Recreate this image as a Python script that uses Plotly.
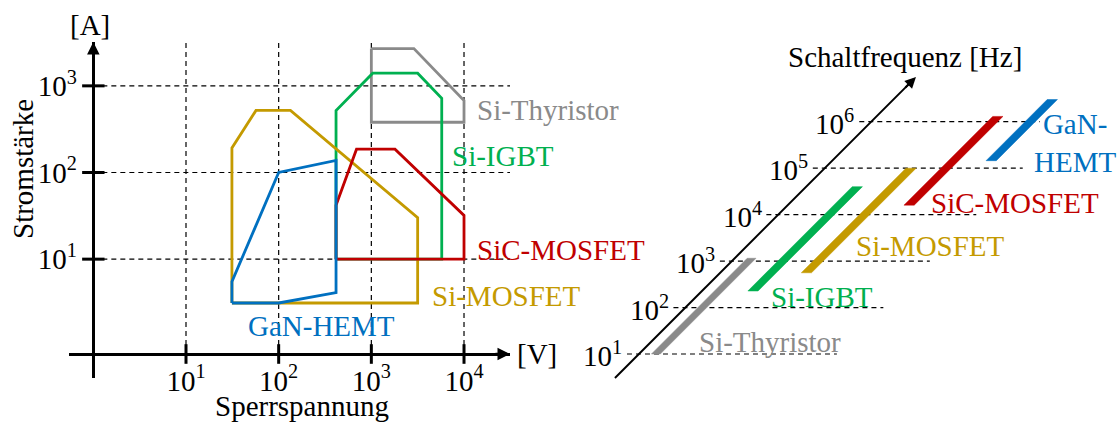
import math
import plotly.graph_objects as go

W, H = 1117, 423
FONT = "Liberation Serif"
FS = 29

# ---------------- data ----------------
# Left chart: Sperrspannung [V] (x) vs. Stromstärke [A] (y)
volt_ticks = [10, 100, 1000, 10000]
volt_tick_text = ["10<sup>1</sup>", "10<sup>2</sup>", "10<sup>3</sup>", "10<sup>4</sup>"]
amp_ticks = [10, 100, 1000]
amp_tick_text = ["10<sup>1</sup>", "10<sup>2</sup>", "10<sup>3</sup>"]

thyristor_v = [1000, 2880, 10000, 10000, 1000, 1000]
thyristor_a = [2690, 2690, 676, 380, 380, 2690]
igbt_v = [416, 416, 1035, 3160, 5750, 5750, 416]
igbt_a = [10, 520, 1400, 1400, 720, 10, 10]
simos_v = [31.3, 31.3, 56.9, 134, 3160, 3160, 31.3]
simos_a = [3.12, 192, 520, 520, 30.2, 3.12, 3.12]
sic_v = [416, 416, 692, 1800, 10000, 10000, 416]
sic_a = [10, 42, 186, 186, 32, 10, 10]
gan_v = [31.3, 31.3, 100, 416, 416, 100, 31.3]
gan_a = [3.12, 5.5, 100, 138, 4.1, 3.12, 3.12]

# Right chart: Schaltfrequenz [Hz]
freq_ticks = [1e1, 1e2, 1e3, 1e4, 1e5, 1e6]
freq_tick_text = ["10<sup>1</sup>", "10<sup>2</sup>", "10<sup>3</sup>",
                  "10<sup>4</sup>", "10<sup>5</sup>", "10<sup>6</sup>"]
devices = ["Si-Thyristor", "Si-IGBT", "Si-MOSFET", "SiC-MOSFET", "GaN-HEMT"]
f_min = [10, 227, 560, 16000, 145000]
f_max = [1150, 40000, 100000, 1.3e6, 3.0e6]

# ---------------- styles / layout ----------------
COL = {
    "Si-Thyristor": "#8A8A8A",
    "Si-IGBT": "#00B050",
    "Si-MOSFET": "#C49A00",
    "SiC-MOSFET": "#C00000",
    "GaN-HEMT": "#0070C0",
}


def pxx(p):
    return p / W


def pxy(p):
    return 1 - p / H


# left panel geometry (pixels)
L_X0, L_X1 = 69, 510
L_Y0, L_Y1 = 42, 378
x_range = [1 + (L_X0 - 186) / 92.67, 1 + (L_X1 - 186) / 92.67]
y_range = [2 - (L_Y1 - 172.5) / 86.65, 2 + (172.5 - L_Y0) / 86.65]
YAXIS_X = 1.0                      # y axis crosses at 10^0 V
XAXIS_LOGY = 2 - (354 - 172.5) / 86.65
XAXIS_Y = 10 ** XAXIS_LOGY


def lx_px(v):
    return L_X0 + (math.log10(v) - x_range[0]) / (x_range[1] - x_range[0]) * (L_X1 - L_X0)


# right panel geometry
R_X0, R_X1 = 560, 1117
R_Y0, R_Y1 = 30, 400
DEC = 46.46
X2_ORIGIN = 592.5
x2_range = [(R_X0 - X2_ORIGIN) / DEC, (R_X1 - X2_ORIGIN) / DEC]
y2_range = [1 - (R_Y1 - 354) / DEC, 1 + (354 - R_Y0) / DEC]
bar_offset = [0.364, 1.098, 1.856, 2.61, 3.42]
bar_w = [0.19, 0.22, 0.22, 0.22, 0.22]
dash_start = 0.258
dash_end = [4.26, 4.26, 4.26, 4.26, 4.26, 3.63]
axis_lo, axis_hi = 0.4834, 6.962

fig = go.Figure()

# ---- left panel: dashed grid ----
gx, gy = [], []
for v in volt_ticks:
    gx += [v, v, None]
    gy += [XAXIS_Y, 10 ** y_range[1], None]
for a in amp_ticks:
    gx += [YAXIS_X, 10 ** x_range[1], None]
    gy += [a, a, None]
fig.add_trace(go.Scatter(x=gx, y=gy, mode="lines", xaxis="x", yaxis="y",
                         line=dict(color="black", width=1.2, dash="5px,4px"),
                         hoverinfo="skip", showlegend=False))

# ---- left panel: device areas ----
for name, xs, ys in [("Si-Thyristor", thyristor_v, thyristor_a),
                     ("Si-IGBT", igbt_v, igbt_a),
                     ("Si-MOSFET", simos_v, simos_a),
                     ("SiC-MOSFET", sic_v, sic_a),
                     ("GaN-HEMT", gan_v, gan_a)]:
    fig.add_trace(go.Scatter(x=xs, y=ys, mode="lines", xaxis="x", yaxis="y",
                             line=dict(color=COL[name], width=2.8),
                             hoverinfo="skip", showlegend=False, name=name))

# ---- left panel: tick marks crossing the axes ----
fig.add_trace(go.Scatter(x=[YAXIS_X] * len(amp_ticks), y=amp_ticks, mode="markers",
                         xaxis="x", yaxis="y", cliponaxis=False,
                         marker=dict(symbol="line-ew", size=16,
                                     line=dict(color="black", width=3)),
                         hoverinfo="skip", showlegend=False))
fig.add_trace(go.Scatter(x=volt_ticks, y=[XAXIS_Y] * len(volt_ticks), mode="markers",
                         xaxis="x", yaxis="y", cliponaxis=False,
                         marker=dict(symbol="line-ns", size=14,
                                     line=dict(color="black", width=3)),
                         hoverinfo="skip", showlegend=False))

# ---- right panel: dashed lines ----
dx, dy = [], []
for f, e in zip(freq_ticks, dash_end):
    lf = math.log10(f)
    dx += [lf - dash_start, lf + e, None]
    dy += [f, f, None]
fig.add_trace(go.Scatter(x=dx, y=dy, mode="lines", xaxis="x2", yaxis="y2",
                         line=dict(color="black", width=1.2, dash="5px,4px"),
                         hoverinfo="skip", showlegend=False))

# ---- right panel: frequency bars ----
for name, lo, hi, off, w in zip(devices, f_min, f_max, bar_offset, bar_w):
    l0, l1 = math.log10(lo), math.log10(hi)
    xs = [l0 + off - w / 2, l0 + off + w / 2, l1 + off + w / 2, l1 + off - w / 2, l0 + off - w / 2]
    ys = [lo, lo, hi, hi, lo]
    fig.add_trace(go.Scatter(x=xs, y=ys, mode="lines", fill="toself", xaxis="x2", yaxis="y2",
                             fillcolor=COL[name], line=dict(color=COL[name], width=0.5),
                             hoverinfo="skip", showlegend=False, name=name))

# ---- right panel: diagonal frequency axis ----
fig.add_trace(go.Scatter(x=[axis_lo, axis_hi - 0.1], y=[10 ** axis_lo, 10 ** (axis_hi - 0.1)],
                         mode="lines", xaxis="x2", yaxis="y2",
                         line=dict(color="black", width=2),
                         hoverinfo="skip", showlegend=False))

ann = []
# arrows
ann.append(dict(xref="x", yref="y", x=x_range[1], y=XAXIS_LOGY, ax=-16, ay=0, text="",
                showarrow=True, arrowhead=2, arrowsize=1, arrowwidth=2.5, arrowcolor="black"))
ann.append(dict(xref="x", yref="y", x=math.log10(YAXIS_X), y=y_range[1], ax=0, ay=16, text="",
                showarrow=True, arrowhead=2, arrowsize=1, arrowwidth=2.5, arrowcolor="black"))
ann.append(dict(xref="x2", yref="y2", x=axis_hi, y=axis_hi, ax=-12, ay=12, text="",
                showarrow=True, arrowhead=2, arrowsize=1.1, arrowwidth=2, arrowcolor="black"))

font = dict(family=FONT, size=FS, color="black")
# axis titles
ann.append(dict(xref="paper", yref="paper", x=pxx(90), y=pxy(25), text="[A]", showarrow=False,
                xanchor="center", yanchor="middle", font=font))
ann.append(dict(xref="paper", yref="paper", x=pxx(23), y=pxy(169), text="Stromstärke",
                showarrow=False, textangle=-90, xanchor="center", yanchor="middle", font=font))
ann.append(dict(xref="paper", yref="paper", x=pxx(515), y=pxy(354), text="[V]", showarrow=False,
                xanchor="left", yanchor="middle", font=font))
ann.append(dict(xref="paper", yref="paper", x=pxx(302), y=pxy(406), text="Sperrspannung",
                showarrow=False, xanchor="center", yanchor="middle", font=font))
ann.append(dict(xref="paper", yref="paper", x=pxx(905), y=pxy(57), text="Schaltfrequenz [Hz]",
                showarrow=False, xanchor="center", yanchor="middle", font=font))

# right panel tick labels
for f, t in zip(freq_ticks, freq_tick_text):
    lf = math.log10(f)
    ann.append(dict(xref="x2", yref="y2", x=lf - dash_start - 0.06, y=lf, text=t,
                    showarrow=False, xanchor="right", yanchor="middle", font=font))

# device labels, left panel
left_labels = {
    "Si-Thyristor": (475, 110),
    "Si-IGBT": (450, 156),
    "SiC-MOSFET": (475, 250),
    "Si-MOSFET": (430, 296),
    "GaN-HEMT": (246, 326),
}
for name, (px, py) in left_labels.items():
    ann.append(dict(xref="paper", yref="paper", x=pxx(px), y=pxy(py), text=name, showarrow=False,
                    xanchor="left", yanchor="middle",
                    font=dict(family=FONT, size=FS, color=COL[name])))

# device labels, right panel
right_labels = {
    "Si-Thyristor": (697, 342, "Si-Thyristor", "left"),
    "Si-IGBT": (769, 297, "Si-IGBT", "left"),
    "Si-MOSFET": (854, 246, "Si-MOSFET", "left"),
    "SiC-MOSFET": (929, 203, "SiC-MOSFET", "left"),
    "GaN-HEMT": (1075, 143, "GaN-<br>HEMT", "center"),
}
for name, (px, py, txt, anc) in right_labels.items():
    ann.append(dict(xref="paper", yref="paper", x=pxx(px), y=pxy(py), text=txt, showarrow=False,
                    xanchor=anc, yanchor="middle", align="center",
                    font=dict(family=FONT, size=FS, color=COL[name])))

fig.update_layout(
    width=W, height=H,
    margin=dict(l=0, r=0, t=0, b=0),
    paper_bgcolor="white", plot_bgcolor="rgba(0,0,0,0)",
    showlegend=False,
    font=dict(family=FONT, size=FS, color="black"),
    xaxis=dict(type="log", range=x_range, domain=[pxx(L_X0), pxx(L_X1)],
               anchor="free", position=pxy(354),
               showgrid=False, zeroline=False,
               showline=True, linecolor="black", linewidth=2.5,
               tickvals=volt_ticks, ticktext=volt_tick_text, ticks="",
               ticklabelstandoff=0,
               tickfont=dict(family=FONT, size=FS, color="black")),
    yaxis=dict(type="log", range=y_range, domain=[pxy(L_Y1), pxy(L_Y0)],
               anchor="free", position=pxx(lx_px(YAXIS_X)),
               showgrid=False, zeroline=False,
               showline=True, linecolor="black", linewidth=2.5,
               tickvals=amp_ticks, ticktext=amp_tick_text, ticks="",
               ticklabelstandoff=10,
               tickfont=dict(family=FONT, size=FS, color="black")),
    xaxis2=dict(range=x2_range, domain=[pxx(R_X0), pxx(R_X1)], anchor="y2", visible=False),
    yaxis2=dict(type="log", range=y2_range, domain=[pxy(R_Y1), pxy(R_Y0)], anchor="x2",
                visible=False),
    annotations=ann,
)

fig.write_html(
    "out.html",
    config={"displayModeBar": False},
    post_script="document.body.style.margin='0';document.body.style.overflow='hidden';",
)
